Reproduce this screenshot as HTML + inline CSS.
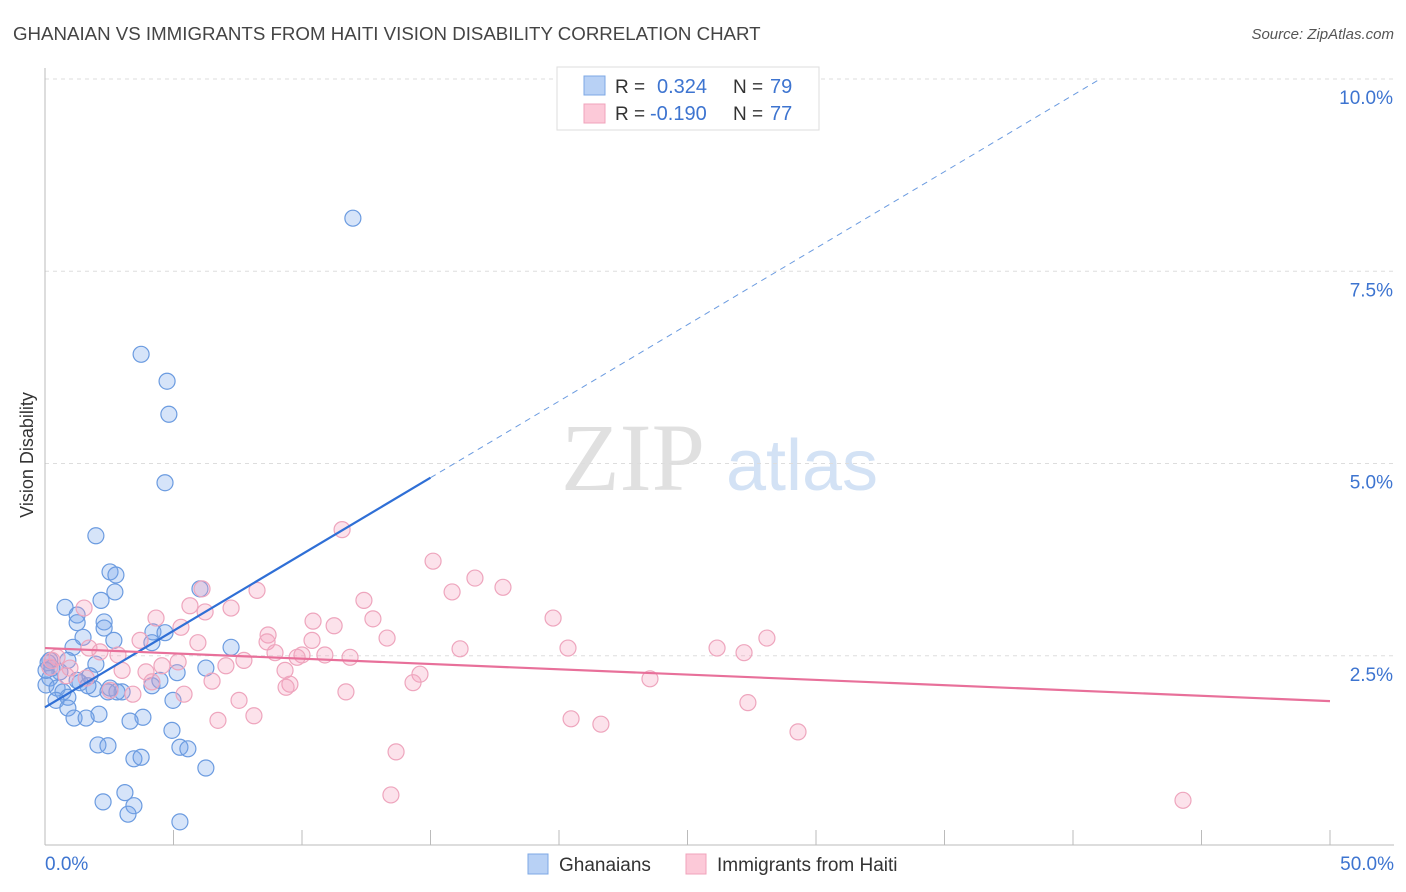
<!DOCTYPE html>
<html><head><meta charset="utf-8"><style>
body{margin:0;background:#fff;font-family:"Liberation Sans",sans-serif;}
svg{display:block}
</style></head><body>
<svg id="c" width="1406" height="892" xmlns="http://www.w3.org/2000/svg">
<text x="13" y="40" font-size="18.7" fill="#444">GHANAIAN VS IMMIGRANTS FROM HAITI VISION DISABILITY CORRELATION CHART</text>
<text x="1394" y="39" font-size="15" fill="#555" font-style="italic" text-anchor="end">Source: ZipAtlas.com</text>
<text x="33" y="455" font-size="18" fill="#333" text-anchor="middle" transform="rotate(-90 33 455)">Vision Disability</text>
<g>
<text x="633" y="490" font-size="96" font-family="Liberation Serif,serif" fill="#e0e0e0" text-anchor="middle">ZIP</text>
<text x="802" y="490" font-size="72" fill="#d3e2f5" text-anchor="middle">atlas</text>
</g>
<g id="grid"></g><g id="axes"></g><g id="pts"></g><g id="lines"></g>
<g>
<rect x="557" y="67" width="262" height="63" fill="#fff" stroke="#ddd"/>
<rect x="584" y="76" width="21" height="19" fill="#b8d1f5" stroke="#7ea8e5"/>
<rect x="584" y="104" width="21" height="19" fill="#fcc9d8" stroke="#f0a3bb"/>
<text x="615" y="93" font-size="19" fill="#333">R = </text><text x="657" y="93" font-size="20" fill="#3d74d0">0.324</text>
<text x="733" y="93" font-size="19" fill="#333">N = </text><text x="770" y="93" font-size="20" fill="#3d74d0">79</text>
<text x="615" y="120" font-size="19" fill="#333">R = </text><text x="650" y="120" font-size="20" fill="#3d74d0">-0.190</text>
<text x="733" y="120" font-size="19" fill="#333">N = </text><text x="770" y="120" font-size="20" fill="#3d74d0">77</text>
</g>
<g>
<rect x="528" y="854" width="20" height="20" fill="#b8d1f5" stroke="#7ea8e5"/>
<text x="559" y="871" font-size="19" fill="#333">Ghanaians</text>
<rect x="686" y="854" width="20" height="20" fill="#fcc9d8" stroke="#f0a3bb"/>
<text x="717" y="871" font-size="19" fill="#333">Immigrants from Haiti</text>
</g>
</svg>
<script>
const xTicks=[0,5,10,15,20,25,30,35,40,45,50];
const yTicks=[2.5,5,7.5,10];
const yTickLabels=["2.5%","5.0%","7.5%","10.0%"];
const blueX=[11.98,3.74,4.75,4.82,4.67,1.98,2.53,2.76,2.72,0.78,6.03,2.18,1.25,2.30,1.25,2.30,1.48,4.20,4.67,2.68,1.09,7.24,4.16,0.19,0.89,1.98,6.26,5.14,0.58,0.19,1.25,1.75,1.36,0.04,0.47,1.91,2.53,3.00,4.16,4.47,0.70,0.89,0.43,4.98,2.80,2.45,0.89,2.10,1.13,1.60,3.81,3.31,4.94,2.06,2.45,5.25,5.56,3.46,3.74,6.26,3.11,2.26,3.46,3.23,5.25,0.12,0.27,1.67,0.04];
const blueY=[8.19,6.42,6.07,5.64,4.75,4.06,3.59,3.55,3.33,3.13,3.37,3.22,3.03,2.94,2.93,2.86,2.74,2.81,2.80,2.70,2.61,2.61,2.67,2.44,2.44,2.39,2.34,2.28,2.29,2.21,2.18,2.24,2.15,2.12,2.08,2.07,2.08,2.03,2.11,2.18,2.03,1.96,1.92,1.92,2.03,2.03,1.82,1.74,1.69,1.69,1.70,1.65,1.53,1.34,1.33,1.31,1.29,1.16,1.18,1.04,0.72,0.60,0.55,0.44,0.34,2.41,2.34,2.11,2.31];
const pinkX=[11.56,15.10,16.73,17.82,15.84,8.25,12.41,1.52,4.32,5.64,6.23,7.24,6.11,12.76,10.43,11.25,5.29,13.31,8.68,19.77,8.64,3.70,5.95,10.39,16.15,20.35,26.15,28.09,27.20,1.71,2.14,2.84,0.47,5.18,8.95,10.00,10.89,11.87,7.74,7.04,9.81,4.55,3.00,3.93,4.16,0.82,0.19,1.60,6.50,9.34,14.59,14.32,23.54,9.53,9.38,11.71,5.41,3.42,2.53,7.55,27.35,8.13,6.73,20.47,21.63,29.30,13.66,13.46,44.28,0.27,0.97];
const pinkY=[4.14,3.73,3.51,3.39,3.33,3.35,3.22,3.12,2.99,3.15,3.07,3.12,3.37,2.98,2.95,2.89,2.87,2.73,2.77,2.99,2.68,2.70,2.67,2.70,2.59,2.60,2.60,2.73,2.54,2.60,2.55,2.51,2.48,2.42,2.54,2.51,2.51,2.48,2.44,2.37,2.48,2.37,2.31,2.29,2.16,2.24,2.35,2.21,2.17,2.31,2.26,2.15,2.20,2.13,2.09,2.03,2.00,2.00,2.05,1.92,1.89,1.72,1.66,1.68,1.61,1.51,1.25,0.69,0.62,2.44,2.34];
const blueTrend=[1.83,0.199,15.0,41.0];
const pinkTrend=[2.60,-0.0138,50];
const NS="http://www.w3.org/2000/svg";
const X=v=>45+v*25.7, Y=v=>848-v*76.9;
function mk(p,t,a){const e=document.createElementNS(NS,t);for(const k in a)e.setAttribute(k,a[k]);p.appendChild(e);return e;}
const grid=document.getElementById('grid'),axes=document.getElementById('axes'),pts=document.getElementById('pts'),lines=document.getElementById('lines');
yTicks.forEach((t,i)=>{
 const g=mk(grid,'line',{x1:45,x2:1394,y1:Y(t),y2:Y(t),stroke:'#ddd','stroke-dasharray':'4,4'});
 
 
 const l=mk(axes,'text',{x:1393,y:Y(t)+25,'font-size':19,fill:'#3d74d0','text-anchor':'end'});
 l.textContent=yTickLabels[i];
 
 
});
const ax=mk(axes,'line',{x1:45,x2:1394,y1:845,y2:845,stroke:'#bbb'});


const ay=mk(axes,'line',{x1:45,x2:45,y1:68,y2:845,stroke:'#bbb'});


xTicks.forEach(t=>{
 const k=mk(axes,'line',{x1:X(t),x2:X(t),y1:830,y2:845,stroke:'#bbb'});
 
 
});
const xl0=mk(axes,'text',{x:45,y:870,'font-size':19,fill:'#3d74d0'});xl0.textContent=xTicks[0].toFixed(1)+'%';


const xl1=mk(axes,'text',{x:1394,y:870,'font-size':19,fill:'#3d74d0','text-anchor':'end'});xl1.textContent=xTicks[xTicks.length-1].toFixed(1)+'%';


blueX.forEach((v,i)=>{
 const c=mk(pts,'circle',{cx:X(v),cy:Y(blueY[i]),r:8,fill:'rgba(120,165,235,0.3)',stroke:'#6b9be0','stroke-width':1.2});
 
 
});
pinkX.forEach((v,i)=>{
 const c=mk(pts,'circle',{cx:X(v),cy:Y(pinkY[i]),r:8,fill:'rgba(245,160,190,0.3)',stroke:'#eea5bd','stroke-width':1.2});
 
 
});
const bl=mk(lines,'line',{x1:X(0),y1:Y(blueTrend[0]),x2:X(blueTrend[2]),y2:Y(blueTrend[0]+blueTrend[1]*blueTrend[2]),stroke:'#2f6fd6','stroke-width':2.2});


const bd=mk(lines,'line',{x1:X(blueTrend[2]),y1:Y(blueTrend[0]+blueTrend[1]*blueTrend[2]),x2:X(blueTrend[3]),y2:Y(blueTrend[0]+blueTrend[1]*blueTrend[3]),stroke:'#6b9be0','stroke-width':1,'stroke-dasharray':'6,5'});


const pl=mk(lines,'line',{x1:X(0),y1:Y(pinkTrend[0]),x2:X(pinkTrend[2]),y2:Y(pinkTrend[0]+pinkTrend[1]*pinkTrend[2]),stroke:'#e8709a','stroke-width':2.2});


</script>
</body></html>
